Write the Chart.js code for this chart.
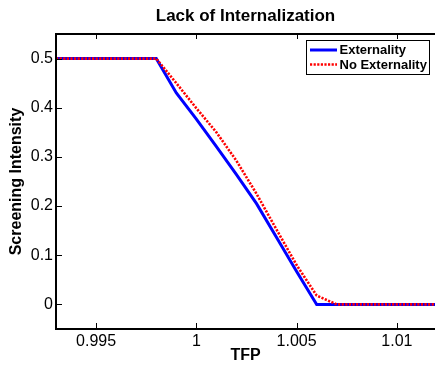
<!DOCTYPE html>
<html><head><meta charset="utf-8">
<script src="https://cdn.jsdelivr.net/npm/chart.js@4"></script>
<style>html,body{margin:0;padding:0;background:#fff;overflow:hidden}</style>
</head><body>
<canvas id="c" width="435" height="365"></canvas>
<script>
const chartTitle = 'Lack of Internalization';
const xLabel = 'TFP';
const yLabel = 'Screening Intensity';
const seriesNames = ['Externality', 'No Externality'];
const tfp = [0.993,0.994,0.995,0.996,0.997,0.998,0.999,1.000,1.001,1.002,1.003,1.004,1.005,1.006,1.007,1.008,1.009,1.010,1.011,1.012];
const externality   = [0.5,0.5,0.5,0.5,0.5,0.5,0.43,0.377,0.321,0.264,0.205,0.136,0.067,0,0,0,0,0,0,0];
const noExternality = [0.5,0.5,0.5,0.5,0.5,0.5,0.45,0.399,0.35,0.292,0.225,0.152,0.08,0.018,0,0,0,0,0,0];
const xTicks = [0.995, 1, 1.005, 1.01];
const yTicks = [0, 0.1, 0.2, 0.3, 0.4, 0.5];

const FONT = "'Liberation Sans', Arial, Helvetica, sans-serif";
const toPts = (xs, ys) => xs.map((x, i) => ({x, y: ys[i]}));

const frame = {
  id: 'frame',
  afterDatasetsDraw(chart) {
    const {ctx, chartArea: a, scales: {x, y}} = chart;
    ctx.save();
    ctx.strokeStyle = '#000'; ctx.lineWidth = 1;
    ctx.beginPath();
    x.ticks.forEach((t, i) => {
      const px = Math.round(x.getPixelForTick(i)) + 0.5;
      ctx.moveTo(px, a.bottom); ctx.lineTo(px, a.bottom - 6);
      ctx.moveTo(px, a.top); ctx.lineTo(px, a.top + 5);
    });
    y.ticks.forEach((t, i) => {
      const py = Math.round(y.getPixelForTick(i)) + 0.5;
      ctx.moveTo(a.left, py); ctx.lineTo(a.left + 6, py);
    });
    ctx.stroke();
    ctx.lineWidth = 2;
    ctx.beginPath();
    ctx.moveTo(a.right + 2, a.top); ctx.lineTo(a.left, a.top);
    ctx.lineTo(a.left, a.bottom); ctx.lineTo(a.right + 2, a.bottom);
    ctx.stroke();
    const lx = 306, ly = 40, lw = 123, lh = 34;
    ctx.fillStyle = '#fff';
    ctx.fillRect(lx, ly, lw, lh);
    ctx.lineWidth = 1; ctx.strokeStyle = '#000';
    ctx.strokeRect(lx + 0.5, ly + 0.5, lw, lh);
    const rows = [50, 64.5];
    chart.data.datasets.slice().sort((p, q) => p.legendIndex - q.legendIndex).forEach((ds, i) => {
      const yy = rows[i];
      ctx.save();
      ctx.strokeStyle = ds.borderColor; ctx.lineWidth = ds.borderWidth;
      ctx.setLineDash(ds.borderDash || []);
      ctx.beginPath(); ctx.moveTo(310, yy); ctx.lineTo(337, yy); ctx.stroke();
      ctx.restore();
      ctx.fillStyle = '#000';
      ctx.font = "bold 13px " + FONT;
      ctx.textBaseline = 'middle'; ctx.textAlign = 'left';
      ctx.fillText(ds.label, 339.5, yy + 0.5);
    });
    ctx.restore();
  }
};

new Chart(document.getElementById('c'), {
  type: 'line',
  data: {
    datasets: [
      {label: seriesNames[0], legendIndex: 0, order: 2, data: toPts(tfp, externality),
       borderColor: '#0000ff', borderWidth: 3, pointRadius: 0, tension: 0, fill: false},
      {label: seriesNames[1], legendIndex: 1, order: 1, data: toPts(tfp, noExternality),
       borderColor: '#ff0000', borderWidth: 2.6, borderDash: [2.2, 1.4], pointRadius: 0, tension: 0, fill: false}
    ]
  },
  options: {
    responsive: false, animation: false, devicePixelRatio: 1,
    layout: {padding: 0},
    plugins: {
      legend: {display: false}, tooltip: {enabled: false},
      title: {display: true, text: chartTitle, fullSize: false, color: '#000',
        font: {family: FONT, size: 17, weight: 'bold'}, padding: {top: 6, bottom: 7.6}}
    },
    scales: {
      x: {
        type: 'linear', min: 0.993, max: 1.0119,
        afterBuildTicks: s => { s.ticks = xTicks.map(v => ({value: v})); },
        afterFit: s => { s.height = 36; },
        grid: {display: false, drawTicks: false}, border: {display: false},
        ticks: {color: '#000', padding: 3, font: {family: FONT, size: 16}, maxRotation: 0,
          callback: v => String(+(+v).toFixed(4))},
        title: {display: true, text: xLabel, color: '#000', padding: {top: 0, bottom: 0},
          font: {family: FONT, size: 16, weight: 'bold'}}
      },
      y: {
        type: 'linear', min: -0.05, max: 0.55,
        afterBuildTicks: s => { s.ticks = yTicks.map(v => ({value: v})); },
        afterFit: s => { s.width = 56; },
        grid: {display: false, drawTicks: false}, border: {display: false},
        ticks: {color: '#000', padding: 3, font: {family: FONT, size: 16},
          callback: v => String(+(+v).toFixed(4))},
        title: {display: true, text: yLabel, color: '#000', padding: {top: 7, bottom: 0},
          font: {family: FONT, size: 16, weight: 'bold'}}
      }
    }
  },
  plugins: [frame]
});
</script>
</body></html>
